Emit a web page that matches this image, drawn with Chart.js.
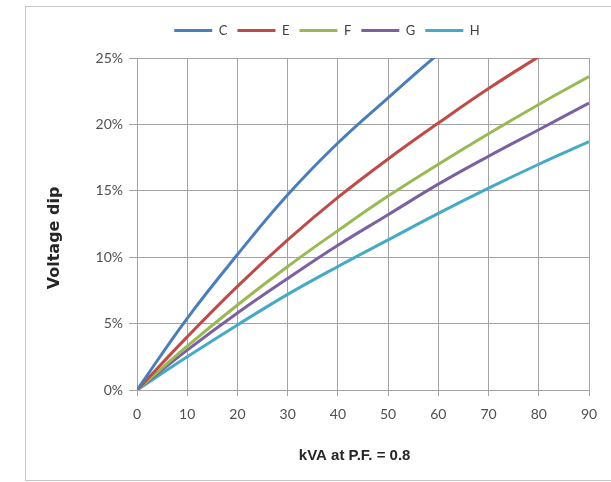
<!DOCTYPE html>
<html>
<head>
<meta charset="utf-8">
<script src="https://cdn.jsdelivr.net/npm/chart.js@4"></script>
<style>
  body { margin: 0; overflow: hidden; background: #fff; }
  #wrap { position: relative; width: 611px; height: 482px; overflow: hidden; }
  #frame { position: absolute; left: 25px; top: 6px; width: 600px; height: 473px; border: 1px solid #c4c4c4; }
  canvas { position: absolute; left: 0; top: 0; }
</style>
</head>
<body>
<div id="wrap">
  <div id="frame"></div>
  <canvas id="chart" width="611" height="482"></canvas>
</div>
<script>
// kVA at P.F. = 0.8
const kva = [0, 10, 20, 30, 40, 50, 60, 70, 80, 90]

// voltage dip (fraction) per alternator frame
const dipC = [0, 0.054, 0.102, 0.147, 0.186, 0.220, 0.253, 0.283, 0.310, 0.335]
const dipE = [0, 0.040, 0.078, 0.113, 0.145, 0.174, 0.201, 0.227, 0.251, 0.274]
const dipF = [0, 0.033, 0.064, 0.093, 0.120, 0.146, 0.170, 0.193, 0.215, 0.236]
const dipG = [0, 0.030, 0.058, 0.084, 0.109, 0.132, 0.155, 0.176, 0.196, 0.216]
const dipH = [0, 0.025, 0.049, 0.072, 0.093, 0.113, 0.133, 0.152, 0.170, 0.187]

const seriesNames = ['C', 'E', 'F', 'G', 'H']
const seriesData = [dipC, dipE, dipF, dipG, dipH]
const seriesColors = ['#4a7ebb', '#be4b48', '#98b954', '#7d60a0', '#46aac5']

const yTicks = [0, 0.05, 0.10, 0.15, 0.20, 0.25]

const gridColor = '#a3a3a3'
const tickFont = { family: 'Lato', size: 14 }

// a bit more room under the legend, and nudge it right like the original
const legendTweak = {
    id: 'legendTweak',
    beforeInit(chart) {
        const fit = chart.legend.fit
        chart.legend.fit = function () {
            fit.call(this)
            this.height += 11
        }
    },
    afterLayout(chart) {
        chart.legend.left += 10
        chart.legend.right += 10
    },
}

const ctx = document.querySelector('#chart')
new Chart(ctx, {
    type: 'line',
    data: {
        datasets: seriesNames.map((name, i) => ({
            label: name,
            data: kva.map((x, j) => ({ x: x, y: seriesData[i][j] })),
            borderColor: seriesColors[i],
            backgroundColor: seriesColors[i],
            borderWidth: 3,
            pointRadius: 0,
            tension: 0.4,
            fill: false,
        }))
    },
    plugins: [legendTweak],
    options: {
        responsive: false,
        animation: false,
        events: [],
        layout: { padding: { left: 45, right: 22, top: 14, bottom: 17 } },
        plugins: {
            tooltip: { enabled: false },
            legend: {
                position: 'top',
                labels: {
                    usePointStyle: true,
                    pointStyle: 'line',
                    pointStyleWidth: 38,
                    boxHeight: 14,
                    padding: 10,
                    color: '#404040',
                    font: { family: 'Lato', size: 13 },
                },
            },
        },
        scales: {
            x: {
                type: 'linear',
                min: 0,
                max: 90,
                afterFit: s => { s.height = 75 },
                ticks: { stepSize: 10, color: '#505050', font: tickFont, padding: 10, maxRotation: 0 },
                grid: { color: gridColor, tickLength: 6, tickColor: gridColor },
                border: { color: gridColor },
                title: {
                    display: true,
                    text: 'kVA at P.F. = 0.8    ',
                    color: '#262626',
                    font: { family: 'Liberation Sans', size: 15, weight: 'bold' },
                    padding: { top: 0, bottom: 0 },
                },
            },
            y: {
                min: 0,
                max: 0.25,
                afterFit: s => { s.width = 92 },
                afterBuildTicks: s => { s.ticks = yTicks.map(v => ({ value: v })) },
                ticks: {
                    color: '#505050',
                    font: tickFont,
                    padding: 6,
                    callback: v => Math.round(v * 100) + '%',
                },
                grid: { color: gridColor, tickLength: 8, tickColor: gridColor },
                border: { color: gridColor },
                title: {
                    display: true,
                    text: 'Voltage dip     ',
                    color: '#262626',
                    font: { family: 'DejaVu Sans', size: 16, weight: 'bold' },
                    padding: { top: 0, bottom: 0 },
                },
            },
        },
    },
})
</script>
</body>
</html>
